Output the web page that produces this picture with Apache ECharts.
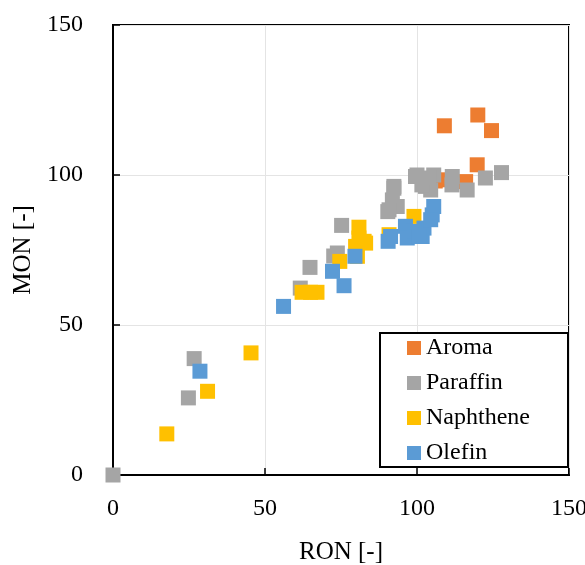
<!DOCTYPE html>
<html><head><meta charset="utf-8">
<script src="https://cdn.jsdelivr.net/npm/echarts@6/dist/echarts.min.js"></script>
<style>html,body{margin:0;padding:0;background:#fff}#c{width:585px;height:565px}</style>
</head><body><div id="c"></div>
<script>
const xTicks = [0, 50, 100, 150];
const yTicks = [0, 50, 100, 150];
const aroma = [[109,116.4],[120,120],[124.5,114.8],[119.8,103.4],[109.4,98.4],[116,97.8],[106,98]];
const paraffin = [[0,0],[26.7,38.8],[24.8,25.7],[75.2,83.2],[64.8,69.2],[61.6,62.3],[73.8,74],[72.6,73],
  [90.4,87.8],[92.4,95.6],[91.9,91.7],[93.5,89.5],[90.8,88.4],[99.5,99.5],[105.5,100],[102.8,96.2],
  [104.5,95],[101.6,96.7],[111.6,99.5],[111.5,96.7],[116.5,95],[122.5,99],[127.8,100.8],[100,100],
  [103.9,99],[92.4,96.2]];
const naphthene = [[17.7,13.7],[31.1,27.9],[45.4,40.7],[62.2,60.9],[65,60.9],[67.1,60.9],[80.9,82.6],
  [80.9,79],[83.1,77.3],[79.8,76.2],[74.6,71.2],[80.4,72.9],[82.6,77.9],[90.8,80.1],[99,86.2]];
const olefin = [[28.6,34.6],[56.1,56.2],[76,63.1],[72.2,67.9],[79.6,72.9],[90.5,77.9],[91.3,79.5],
  [96.2,82.9],[96.8,79],[101.7,79.5],[102.3,82.3],[105,86.7],[105.5,89.5],[104.5,85.1],[99,81.2],[100.6,79.5]];
const names = ['Aroma','Paraffin','Naphthene','Olefin'];
const colors = ['#ED7D31','#A5A5A5','#FFC000','#5B9BD5'];
const datas = [aroma, paraffin, naphthene, olefin];

const font = '"Liberation Serif","Times New Roman",serif';
const chart = echarts.init(document.getElementById('c'), null, {renderer:'canvas'});
const axisCommon = {
  min: 0, max: 150, interval: 50,
  axisLine: {show:true, onZero:false, lineStyle:{color:'#000', width:2}},
  axisTick: {show:true, inside:true, length:7, lineStyle:{color:'#000', width:1.5}},
  splitLine: {show:true, lineStyle:{color:'#e4e4e4', width:1}},
  axisLabel: {fontFamily:font, fontSize:24, color:'#000'},
  nameTextStyle: {fontFamily:font, fontSize:25, color:'#000'}
};
chart.setOption({
  animation: false,
  grid: {left:113, top:25, right:16, bottom:90, containLabel:false, outerBoundsMode:'none',
    show:true, borderColor:'#000', borderWidth:2, backgroundColor:'transparent'},
  xAxis: Object.assign({}, axisCommon, {type:'value', name:'RON [-]', nameLocation:'middle', nameGap:65,
    axisLabel: Object.assign({}, axisCommon.axisLabel, {margin:22})}),
  yAxis: Object.assign({}, axisCommon, {type:'value', name:'MON [-]', nameLocation:'middle', nameGap:76,
    axisLabel: Object.assign({}, axisCommon.axisLabel, {margin:30})}),
  graphic: [{type:'rect', z:5, shape:{x:380, y:333, width:188, height:134},
    style:{fill:'#fff', stroke:'#000', lineWidth:2}}],
  legend: {
    show:true, orient:'vertical', left:407, top:336, padding:0, z:10,
    itemGap:11, itemWidth:14, itemHeight:14,
    textStyle:{fontFamily:font, fontSize:24, lineHeight:24, color:'#000'},
    data: names.map((n,i)=>({name:n, icon:'rect', itemStyle:{color:colors[i]}}))
  },
  series: names.map((n,i)=>({
    name:n, type:'scatter', symbol:'rect', symbolSize:15,
    itemStyle:{color:colors[i], opacity:1}, data:datas[i]
  }))
});
</script></body></html>
